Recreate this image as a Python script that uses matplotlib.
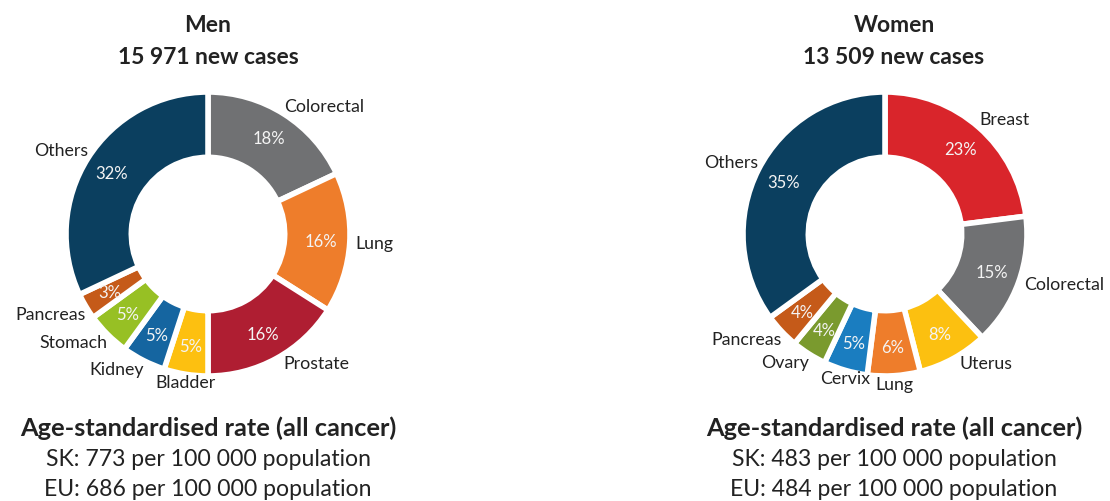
import matplotlib
matplotlib.use('Agg')
import numpy as np
from matplotlib import pyplot as plt

plt.rcParams['font.family'] = ['Lato', 'DejaVu Sans']

# data
men_labels = ['Colorectal', 'Lung', 'Prostate', 'Bladder', 'Kidney', 'Stomach', 'Pancreas', 'Others']
men_values = [18, 16, 16, 5, 5, 5, 3, 32]
men_cases = '15 971'
men_sk = '773'
men_eu = '686'

women_labels = ['Breast', 'Colorectal', 'Uterus', 'Lung', 'Cervix', 'Ovary', 'Pancreas', 'Others']
women_values = [23, 15, 8, 6, 5, 4, 4, 35]
women_cases = '13 509'
women_sk = '483'
women_eu = '484'

colors = {
    'Others': '#0b3f5f', 'Colorectal': '#707173', 'Lung': '#ee7d2b',
    'Prostate': '#af1e32', 'Bladder': '#fdc010', 'Kidney': '#1565a0',
    'Stomach': '#97c024', 'Pancreas': '#c55a19', 'Breast': '#d9252b',
    'Uterus': '#fcc010', 'Cervix': '#1a7dc0', 'Ovary': '#7a9a2e',
}

W, H = 1110, 502
R_PX = 142
TXT = '#222222'


def donut(cx, cy, labels, values):
    half = 180
    ax = plt.gcf().add_axes([(cx - half) / W, (H - cy - half) / H, 2 * half / W, 2 * half / H])
    wedges, _, autotexts = ax.pie(values, colors=[colors[l] for l in labels], startangle=90,
                                  counterclock=False, radius=1,
                                  wedgeprops=dict(width=0.46, edgecolor='white', linewidth=4),
                                  autopct='%.0f%%', pctdistance=0.8,
                                  textprops=dict(color='white', fontsize=12))
    for t in autotexts:
        t.set_color('#f4f4f4')
    for w, lab in zip(wedges, labels):
        th = np.deg2rad((w.theta1 + w.theta2) / 2)
        c, s = np.cos(th), np.sin(th)
        ha = 'left' if c > 0.3 else ('right' if c < -0.3 else 'center')
        va = 'bottom' if s > 0.4 else ('top' if s < -0.4 else 'center')
        d = 1.04 if va == 'center' else 1.0
        if va == 'top' and c > 0.3:
            d = 0.97
        ax.text(d * c + (0.06 if ha == 'left' and va == 'top' else 0), d * s, lab,
                ha=ha, va=va, fontsize=12.8, color=TXT)
    lim = half / R_PX
    ax.set_xlim(-lim, lim)
    ax.set_ylim(-lim, lim)
    ax.set_aspect('equal')
    ax.axis('off')


def texts(cx, title, cases, sk, eu):
    fig = plt.gcf()
    fig.text(cx / W, 1 - 25 / H, title, ha='center', va='center', fontsize=16.5, fontweight='bold', color=TXT)
    fig.text(cx / W, 1 - 58 / H, cases + ' new cases', ha='center', va='center', fontsize=16.5,
             fontweight='bold', color=TXT)
    fig.text(cx / W, 1 - 428 / H, 'Age-standardised rate (all cancer)', ha='center', va='center',
             fontsize=18.3, fontweight='bold', color=TXT)
    fig.text(cx / W, 1 - 460 / H, 'SK: ' + sk + ' per 100 000 population', ha='center', va='center',
             fontsize=16.6, color=TXT)
    fig.text(cx / W, 1 - 490 / H, 'EU: ' + eu + ' per 100 000 population', ha='center', va='center',
             fontsize=16.6, color=TXT)


fig = plt.figure(figsize=(W / 100, H / 100), dpi=100)
donut(208, 235, men_labels, men_values)
donut(885, 235, women_labels, women_values)
texts(208, 'Men', men_cases, men_sk, men_eu)
texts(894, 'Women', women_cases, women_sk, women_eu)
fig.savefig('out.png', dpi=100)
